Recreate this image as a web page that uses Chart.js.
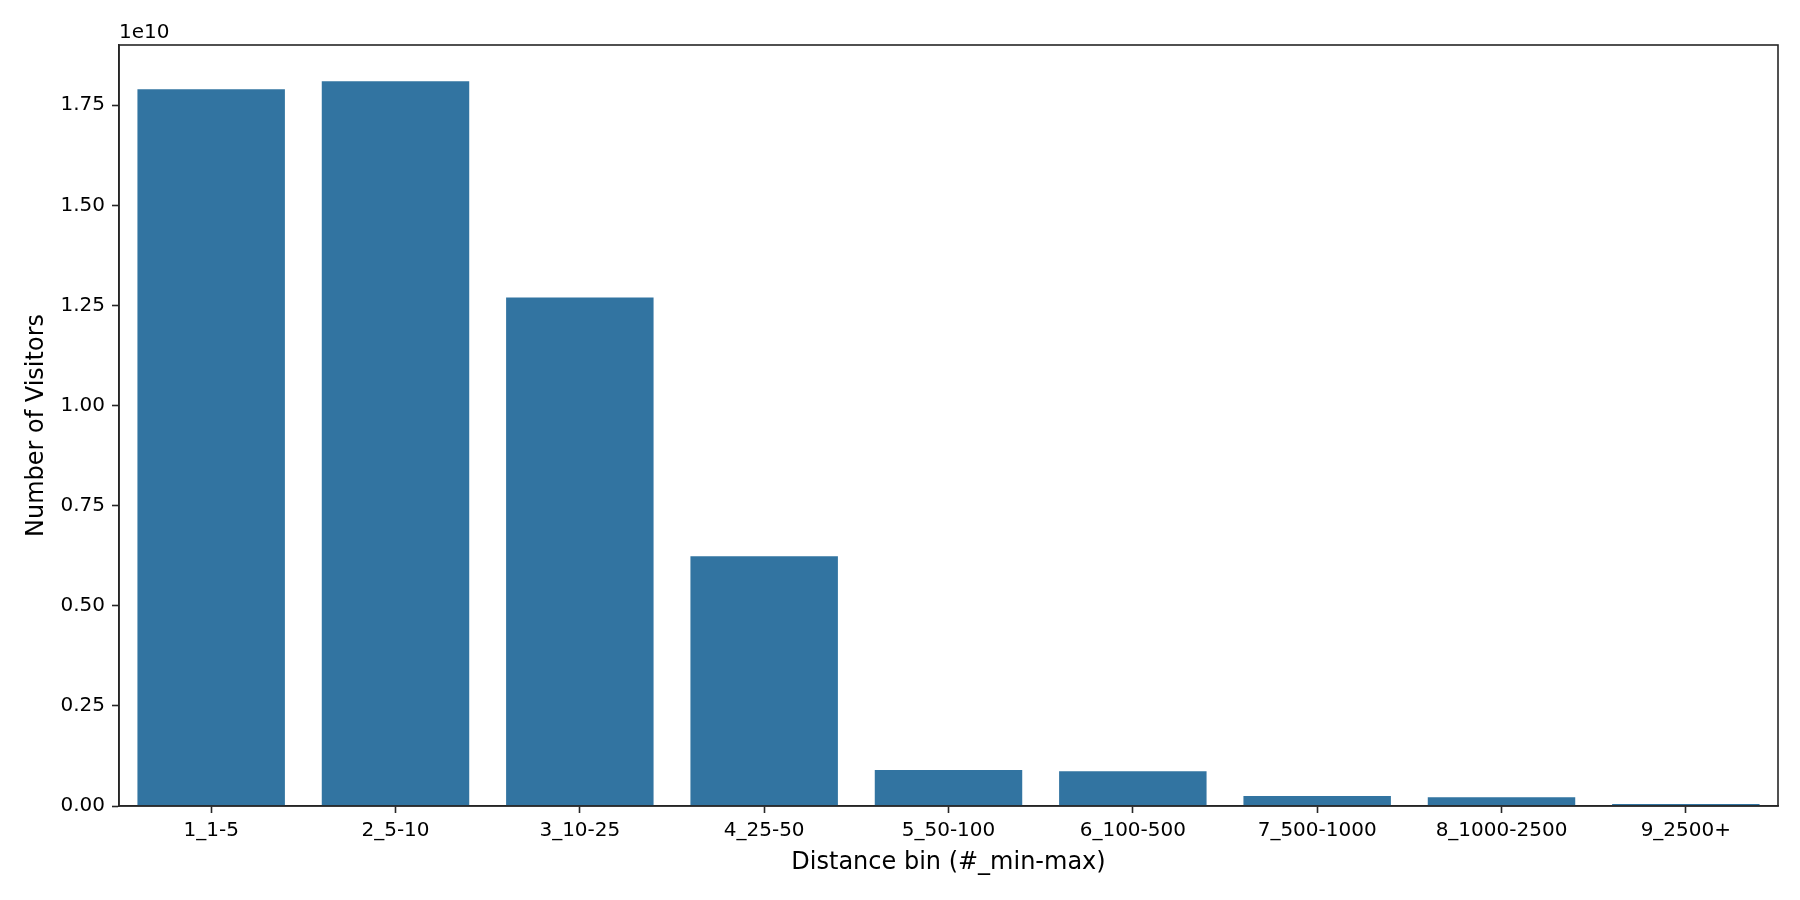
<!DOCTYPE html>
<html>
<head>
<meta charset="utf-8">
<script src="https://cdn.jsdelivr.net/npm/chart.js@4.4.1/dist/chart.umd.min.js"></script>
<style>
  html, body { margin: 0; padding: 0; background: #fff; }
  #wrap { width: 1800px; height: 900px; }
</style>
</head>
<body>
<div id="wrap"><canvas id="chart" width="1800" height="900"></canvas></div>
<script>
// Distance bins and visitor counts
const categories = ['1_1-5', '2_5-10', '3_10-25', '4_25-50', '5_50-100', '6_100-500', '7_500-1000', '8_1000-2500', '9_2500+'];
const visitors = [1.79e10, 1.81e10, 1.27e10, 0.624e10, 0.0898e10, 0.087e10, 0.025e10, 0.022e10, 0.005e10];
const yTicks = [0, 0.25e10, 0.5e10, 0.75e10, 1.0e10, 1.25e10, 1.5e10, 1.75e10];
const yScaleExp = 1e10;

const spineColor = '#262626';
const barColor = '#3274a1';

// Draws the top/right spines and the "1e10" offset text
const framePlugin = {
  id: 'frame',
  afterDraw(chart) {
    const { ctx, chartArea: a } = chart;
    ctx.save();
    ctx.strokeStyle = spineColor;
    ctx.lineWidth = 1.6;
    ctx.strokeRect(a.left, a.top, a.right - a.left, a.bottom - a.top);
    ctx.fillStyle = '#000';
    ctx.font = '20px "DejaVu Sans"';
    ctx.textAlign = 'left';
    ctx.textBaseline = 'bottom';
    ctx.fillText('1e10', a.left, a.top - 2);
    ctx.restore();
  }
};

const ctx = document.getElementById('chart').getContext('2d');
new Chart(ctx, {
  type: 'bar',
  data: {
    labels: categories,
    datasets: [{
      label: 'Number of Visitors',
      data: visitors,
      backgroundColor: barColor,
      borderWidth: 0,
      categoryPercentage: 0.8,
      barPercentage: 1.0,
    }],
  },
  options: {
    responsive: false,
    animation: false,
    devicePixelRatio: 1,
    layout: { padding: { top: 45, right: 22, bottom: 0, left: 0 } },
    plugins: {
      legend: { display: false },
      tooltip: { enabled: false },
    },
    scales: {
      x: {
        offset: true,
        grid: {
          offset: false,
          drawOnChartArea: false,
          tickLength: 7,
          tickColor: spineColor,
          tickWidth: 1.6,
        },
        border: { color: spineColor, width: 1.6 },
        ticks: {
          color: '#000',
          font: { family: 'DejaVu Sans', size: 20 },
          padding: 6,
          maxRotation: 0,
          autoSkip: false,
        },
        title: {
          display: true,
          text: 'Distance bin (#_min-max)',
          color: '#000',
          font: { family: 'DejaVu Sans', size: 24 },
          padding: { top: 2, bottom: 23 },
        },
        afterFit(scale) { scale.height = 94; },
      },
      y: {
        min: 0,
        max: Math.max(...visitors) * 1.05,
        grid: {
          drawOnChartArea: false,
          tickLength: 7,
          tickColor: spineColor,
          tickWidth: 1.6,
        },
        border: { color: spineColor, width: 1.6 },
        ticks: {
          color: '#000',
          font: { family: 'DejaVu Sans', size: 20 },
          padding: 7,
          callback: (v) => (v / yScaleExp).toFixed(2),
        },
        afterBuildTicks(scale) {
          scale.ticks = yTicks.map((v) => ({ value: v }));
        },
        title: {
          display: true,
          text: 'Number of Visitors',
          color: '#000',
          font: { family: 'DejaVu Sans', size: 24 },
          padding: { top: 22, bottom: 0 },
        },
        afterFit(scale) { scale.width = 119; },
      },
    },
  },
  plugins: [framePlugin],
});
</script>
</body>
</html>
